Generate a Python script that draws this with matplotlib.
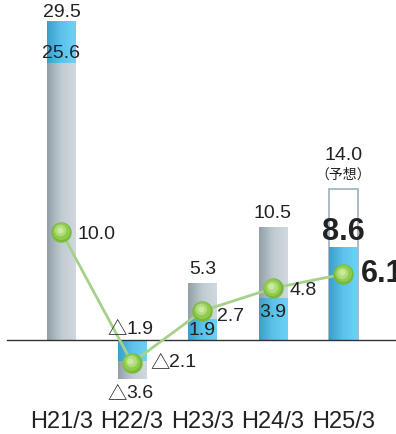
import matplotlib.pyplot as plt
import numpy as np
from matplotlib.colors import LinearSegmentedColormap

# data
periods = ['H21/3', 'H22/3', 'H23/3', 'H24/3', 'H25/3']
totals = [29.5, -3.6, 5.3, 10.5, 14.0]      # gray (or outline) bar top
parts = [25.6, -1.9, 1.9, 3.9, 8.6]         # blue segment
line_vals = [10.0, -2.1, 2.7, 4.8, 6.1]     # green line
total_labels = ['29.5', '△3.6', '5.3', '10.5', '14.0']
part_labels = ['25.6', '△1.9', '1.9', '3.9', '8.6']
line_labels = ['10.0', '△2.1', '2.7', '4.8', '6.1']

blue_cmap = LinearSegmentedColormap.from_list('b', ['#3a9fcc', '#5cc3ec', '#6fd0f5'])
gray_cmap = LinearSegmentedColormap.from_list('g', ['#939fa7', '#c0cbd1', '#d0d9de'])

REG = ['Liberation Sans', 'Noto Sans CJK JP']
NARROW = ['Liberation Sans Narrow', 'Liberation Sans', 'Noto Sans CJK JP']
TRI = ['Noto Sans CJK JP']
TXT = '#222222'
W = 0.41

fig = plt.figure(figsize=(3.96, 4.35), dpi=100)
ax = fig.add_axes([0, 0, 1, 1])
ax.set_xlim(-0.872, 4.745)
ax.set_ylim(-8.70, 31.57)
ax.axis('off')


def grad_bar(x, y0, y1, cmap):
    bar = ax.bar(x, y1 - y0, bottom=y0, width=W, color='none', linewidth=0, zorder=2)[0]
    g = np.linspace(0, 1, 64).reshape(1, -1)
    im = ax.imshow(g, cmap=cmap, aspect='auto', extent=[x - W / 2, x + W / 2, min(y0, y1), max(y0, y1)],
                   zorder=2, interpolation='bilinear')
    im.set_clip_path(bar)


xs = np.arange(len(periods))
for i, x in enumerate(xs):
    t, p = totals[i], parts[i]
    if i == 0:
        grad_bar(x, 0, p, gray_cmap)
        grad_bar(x, p, t, blue_cmap)
    elif i == 4:
        # forecast: outline only
        ax.bar(x, t, width=W, facecolor='white', edgecolor='#9cb0bb', linewidth=1.2, zorder=1)
        grad_bar(x, 0, p, blue_cmap)
    else:
        grad_bar(x, 0, p, blue_cmap)
        grad_bar(x, p, t, gray_cmap)

ax.set_xlim(-0.872, 4.745)
ax.set_ylim(-8.70, 31.57)

# baseline
ax.plot([-0.773, 4.745], [0, 0], color='#333333', lw=1.0, zorder=3)

# line with markers
ax.plot(xs, line_vals, color='#a6d18c', lw=2.0, zorder=4)
ax.scatter(xs, line_vals, s=215, color='#78b83a', zorder=5, linewidths=0)
ax.scatter(xs - 0.01, np.array(line_vals) + 0.08, s=150, color='#8fcb4c', zorder=6, linewidths=0)
ax.scatter(xs - 0.02, np.array(line_vals) + 0.15, s=70, color='#b0dc7a', zorder=7, linewidths=0)
ax.scatter(xs - 0.025, np.array(line_vals) + 0.2, s=20, color='#cbe9a2', zorder=8, linewidths=0)


def label(x, y, s, size=14, ha='center', weight='normal', family=REG):
    if s.startswith('△'):
        ax.text(x, y, '△', fontsize=size, ha='left', va='center', color=TXT, family=TRI, zorder=9)
        ax.text(x + 0.27, y, s[1:], fontsize=size, ha='left', va='center', color=TXT, family=family, zorder=9)
        return
    ax.text(x, y, s, fontsize=size, ha=ha, va='center', color=TXT, weight=weight, family=family, zorder=9)


# H21/3
label(0, 30.4, total_labels[0])
label(0, 26.6, part_labels[0])
label(0.23, 9.9, line_labels[0], ha='left')
# H22/3
label(0.65, 1.1, part_labels[1])
label(0.65, -4.9, total_labels[1])
label(1.26, -2.0, line_labels[1])
# H23/3
label(2, 6.6, total_labels[2])
label(2, 1.0, part_labels[2])
label(2.21, 2.3, line_labels[2], ha='left')
# H24/3
label(3, 11.8, total_labels[3])
label(3, 2.6, part_labels[3])
label(3.24, 4.7, line_labels[3], ha='left')
# H25/3
label(4, 17.2, total_labels[4])
ax.text(4, 15.4, '（予想）', fontsize=10, ha='center', va='center', color=TXT,
        family=['Noto Sans CJK JP'], zorder=9)
label(4, 10.1, part_labels[4], size=22, weight='bold')
label(4.24, 6.2, line_labels[4], size=22, ha='left', weight='bold')

for x, name in zip(xs, periods):
    ax.text(x, -7.5, name, fontsize=17, ha='center', va='center', color=TXT, family=NARROW)

fig.savefig('out.png', dpi=100)
